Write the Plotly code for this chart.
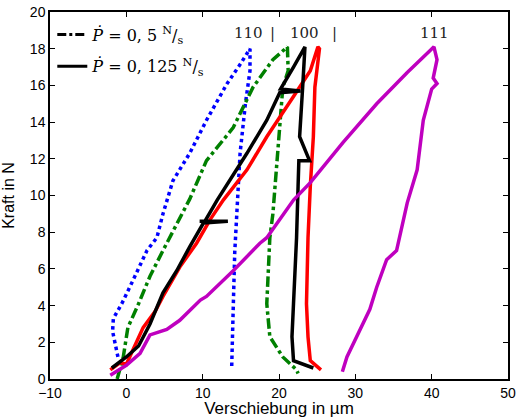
import plotly.graph_objects as go

# Data (Verschiebung in µm, Kraft in N)
blue_x = [-1.1, -1.5, -1.8, -1.7, -0.6, 0.9, 2.7, 4.0, 4.8, 6.1, 8.3, 10.5, 13.2, 15.0, 16.2, 16.2, 15.6, 14.9, 14.5, 14.2, 14.0, 13.8]
blue_y = [1.2, 2.0, 2.6, 3.3, 4.1, 5.4, 7.0, 7.7, 9.0, 10.8, 12.3, 14.1, 16.1, 17.2, 18.0, 16.8, 15.0, 12.3, 8.8, 6.9, 3.8, 0.6]

green_x = [-1.2, -0.4, -0.1, 0.2, 1.6, 3.1, 4.8, 7.0, 8.3, 10.5, 14.0, 16.6, 19.2, 21.1, 21.2, 20.5, 20.1, 19.7, 19.2, 18.8, 18.4, 18.8, 20.5, 22.3, 22.5]
green_y = [0.0, 1.2, 2.0, 2.8, 4.1, 5.6, 7.0, 8.8, 9.8, 11.9, 13.7, 15.9, 17.4, 18.1, 16.8, 15.9, 13.6, 11.8, 9.0, 7.7, 4.1, 2.3, 1.2, 0.5, 0.3]

red_x = [-2.1, -0.8, 0.0, 1.4, 2.2, 3.8, 4.8, 7.0, 9.2, 11.0, 12.7, 15.8, 18.4, 21.9, 24.1, 25.1, 25.3, 24.7, 24.5, 24.1, 23.8, 23.6, 23.8, 24.1, 25.5]
red_y = [0.5, 0.9, 0.8, 2.1, 2.8, 3.7, 4.5, 6.1, 7.4, 8.7, 9.75, 11.4, 13.2, 15.4, 16.8, 18.1, 18.0, 15.9, 13.2, 10.5, 7.7, 4.1, 2.3, 1.0, 0.5]

black_x = [-1.9, 0.0, 1.6, 3.1, 4.8, 6.6, 8.3, 10.1, 13.3, 9.6, 10.3, 11.9, 15.8, 18.4, 20.1, 22.8, 20.2, 21.9, 23.4, 23.1, 22.7, 24.0, 22.6, 22.5, 22.3, 21.9, 21.7, 21.9, 24.5]
black_y = [0.6, 1.2, 1.8, 3.0, 4.7, 5.9, 7.2, 8.5, 8.6, 8.6, 8.6, 9.75, 12.3, 14.1, 15.6, 15.7, 15.8, 17.0, 18.1, 15.9, 13.2, 11.9, 11.9, 10.5, 7.7, 4.1, 2.3, 1.0, 0.6]

magenta_x = [-2.1, 0.0, 1.8, 3.1, 5.3, 7.0, 9.7, 10.5, 14.0, 17.5, 18.4, 21.9, 24.1, 28.4, 32.8, 36.8, 39.8, 40.3, 40.7, 40.2, 40.7, 40.0, 38.9, 38.1, 36.8, 35.4, 34.1, 32.8, 31.9, 30.2, 28.9, 28.3]
magenta_y = [0.2, 0.75, 1.4, 2.4, 2.7, 3.2, 4.3, 4.5, 5.9, 7.4, 7.7, 9.75, 10.7, 12.9, 15.0, 16.7, 17.9, 18.1, 17.4, 16.4, 16.1, 15.8, 14.1, 11.4, 9.6, 7.0, 6.5, 5.0, 3.8, 2.3, 1.2, 0.4]

x_ticks = [-10, 0, 10, 20, 30, 40, 50]
y_ticks = [0, 2, 4, 6, 8, 10, 12, 14, 16, 18, 20]

orient_labels = ["110", "|", "100", "|", "111"]
orient_x = [16.0, 19.2, 23.4, 27.3, 40.4]
orient_y = [18.85, 18.85, 18.85, 18.85, 18.85]

fig = go.Figure()

series = [
    (blue_x, blue_y, "#0000FF", "dot"),
    (green_x, green_y, "#008000", "dashdot"),
    (red_x, red_y, "#FF0000", "solid"),
    (black_x, black_y, "#000000", "solid"),
    (magenta_x, magenta_y, "#BF00BF", "solid"),
]
for xs, ys, col, dash in series:
    fig.add_trace(go.Scatter(x=xs, y=ys, mode="lines",
                             line=dict(color=col, width=3.5, dash=dash),
                             showlegend=False, hoverinfo="skip"))

# legend entries
fig.add_trace(go.Scatter(x=[None], y=[None], mode="lines", legendgroup="a",
                         line=dict(color="black", width=3, dash="dashdot"),
                         name="<i>P\u0307</i> = 0, 5 <sup>N</sup>/<sub>s</sub>"))
fig.add_trace(go.Scatter(x=[None], y=[None], mode="lines", legendgroup="b",
                         line=dict(color="black", width=3, dash="solid"),
                         name="<i>P\u0307</i> = 0, 125 <sup>N</sup>/<sub>s</sub>"))

for lab, xx, yy in zip(orient_labels, orient_x, orient_y):
    fig.add_annotation(x=xx, y=yy, text=lab, showarrow=False,
                       font=dict(family="DejaVu Serif", size=15, color="#222"))

axis_common = dict(showline=True, linecolor="black", linewidth=1.5, mirror="allticks",
                   ticks="inside", ticklen=5, tickcolor="black", showgrid=False, zeroline=False,
                   automargin=False,
                   tickfont=dict(family="Liberation Sans", size=14, color="black"))

fig.update_xaxes(range=[-10, 50], tickvals=x_ticks,
                 ticktext=[("\u2212" + str(-t)) if t < 0 else str(t) for t in x_ticks],
                 title=dict(text="Verschiebung in \u00b5m",
                            font=dict(family="Liberation Sans", size=17, color="black")),
                 **axis_common)
fig.update_yaxes(range=[0, 20], tickvals=y_ticks,
                 title=dict(text="Kraft in N",
                            font=dict(family="Liberation Sans", size=16, color="black")),
                 **axis_common)

fig.update_layout(
    width=518, height=418,
    margin=dict(l=50, r=10, t=12, b=39),
    plot_bgcolor="white", paper_bgcolor="white",
    legend=dict(x=0.005, y=0.985, xanchor="left", yanchor="top",
                bgcolor="rgba(255,255,255,0)", borderwidth=0,
                font=dict(family="DejaVu Serif", size=16, color="black"),
                itemwidth=30, tracegroupgap=8),
)

fig.write_html("out.html", config={"displayModeBar": False},
               post_script="document.body.style.margin='0';document.body.style.overflow='hidden';")
